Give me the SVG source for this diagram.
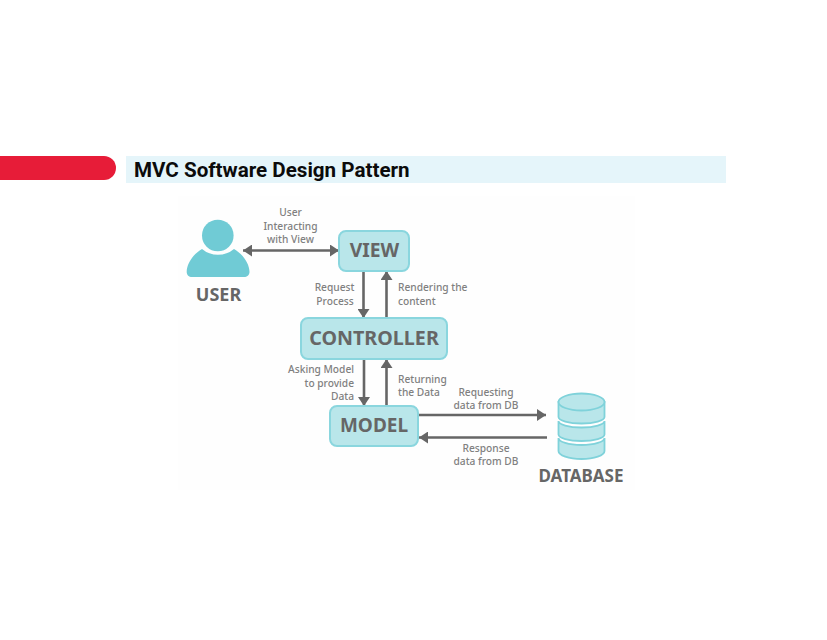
<svg xmlns="http://www.w3.org/2000/svg" width="827" height="640" viewBox="0 0 827 640">
<style>
.lb{font-family:"Noto Sans","Liberation Sans",sans-serif;font-size:10.2px;font-weight:500;fill:#808080;text-anchor:middle}
.nt{font-family:"Noto Sans","Liberation Sans",sans-serif;font-weight:700;fill:#666;text-anchor:middle}
.box{fill:#b9e6ea;stroke:#8ad6de;stroke-width:2}
.ln{fill:none;stroke:#666;stroke-width:2.6}
.db{fill:#b9e6ea;stroke:#7fd2da;stroke-width:1.800}
</style>
<defs>
<marker id="a" markerUnits="userSpaceOnUse" markerWidth="10" markerHeight="12" refX="9" refY="6" orient="auto-start-reverse"><path d="M0 0L9 6L0 12Z" fill="#666"/></marker>
</defs>
<rect width="827" height="640" fill="#fff"/>
<g id="banner">
<path d="M0 156H104a12 12 0 0 1 0 24H0Z" fill="#e71c38"/>
<rect x="126" y="156" width="600" height="27" fill="#e5f5fa"/>
<text x="134" y="177" font-family="Roboto,'Liberation Sans',sans-serif" font-size="20.600" font-weight="700" fill="#0b0b0b">MVC Software Design Pattern</text>
</g>
<rect x="178" y="196" width="457" height="294" fill="#fefefe"/>
<g id="connectors">
<path class="ln" d="M243 250.500H339" marker-start="url(#a)" marker-end="url(#a)"/>
<path class="ln" d="M363.500 271V318" marker-end="url(#a)"/>
<path class="ln" d="M386.500 318V271" marker-end="url(#a)"/>
<path class="ln" d="M364 359V406" marker-end="url(#a)"/>
<path class="ln" d="M386.500 406V359" marker-end="url(#a)"/>
<path class="ln" d="M418 415H546" marker-end="url(#a)"/>
<path class="ln" d="M547 437.500H419" marker-end="url(#a)"/>
</g>
<g id="connector-labels">
<text class="lb" x="290.500" y="216">User</text>
<text class="lb" x="290.500" y="230">Interacting</text>
<text class="lb" x="290.500" y="243">with View</text>
<text class="lb" x="334.500" y="291">Request</text>
<text class="lb" x="335" y="305">Process</text>
<text class="lb" x="398" y="291" style="text-anchor:start">Rendering the</text>
<text class="lb" x="398" y="305" style="text-anchor:start">content</text>
<text class="lb" x="354" y="373" style="text-anchor:end">Asking Model</text>
<text class="lb" x="354" y="387" style="text-anchor:end">to provide</text>
<text class="lb" x="354" y="400" style="text-anchor:end">Data</text>
<text class="lb" x="398" y="383" style="text-anchor:start">Returning</text>
<text class="lb" x="398" y="396" style="text-anchor:start">the Data</text>
<text class="lb" x="486" y="396">Requesting</text>
<text class="lb" x="486" y="409">data from DB</text>
<text class="lb" x="486" y="452">Response</text>
<text class="lb" x="486" y="465">data from DB</text>
</g>
<g id="user">
<circle cx="217.800" cy="235.500" r="15.800" fill="#70cbd5"/>
<path d="M202 249A25 25 0 0 0 234 249C243 254 249.500 264 249.500 272C249.500 275 247 277 244 277H192C189 277 186.700 275 186.700 272C186.700 264 193 254 202 249Z" fill="#70cbd5"/>
<text class="nt" x="218.500" y="301" font-size="18">USER</text>
</g>
<g id="view">
<rect class="box" x="339" y="231" width="70" height="40" rx="7"/>
<text class="nt" x="374.500" y="257" font-size="19.300">VIEW</text>
</g>
<g id="controller">
<rect class="box" x="301" y="318" width="146" height="41" rx="7"/>
<text class="nt" x="374" y="345" font-size="19.700">CONTROLLER</text>
</g>
<g id="model">
<rect class="box" x="330" y="406" width="88" height="40" rx="7"/>
<text class="nt" x="374" y="432" font-size="19">MODEL</text>
</g>
<g id="database">
<path class="db" d="M558.500 438A23 7 0 0 0 604.500 438V451A23 8 0 0 1 558.500 451Z"/>
<path class="db" d="M558.500 421A23 6.500 0 0 0 604.500 421V434.500A23 6.500 0 0 1 558.500 434.500Z"/>
<path class="db" d="M558.500 402V417A23 6.500 0 0 0 604.500 417V402Z"/>
<ellipse class="db" cx="581.500" cy="402" rx="23" ry="8.500"/>
<text class="nt" x="581" y="482" font-size="17">DATABASE</text>
</g>
</svg>
